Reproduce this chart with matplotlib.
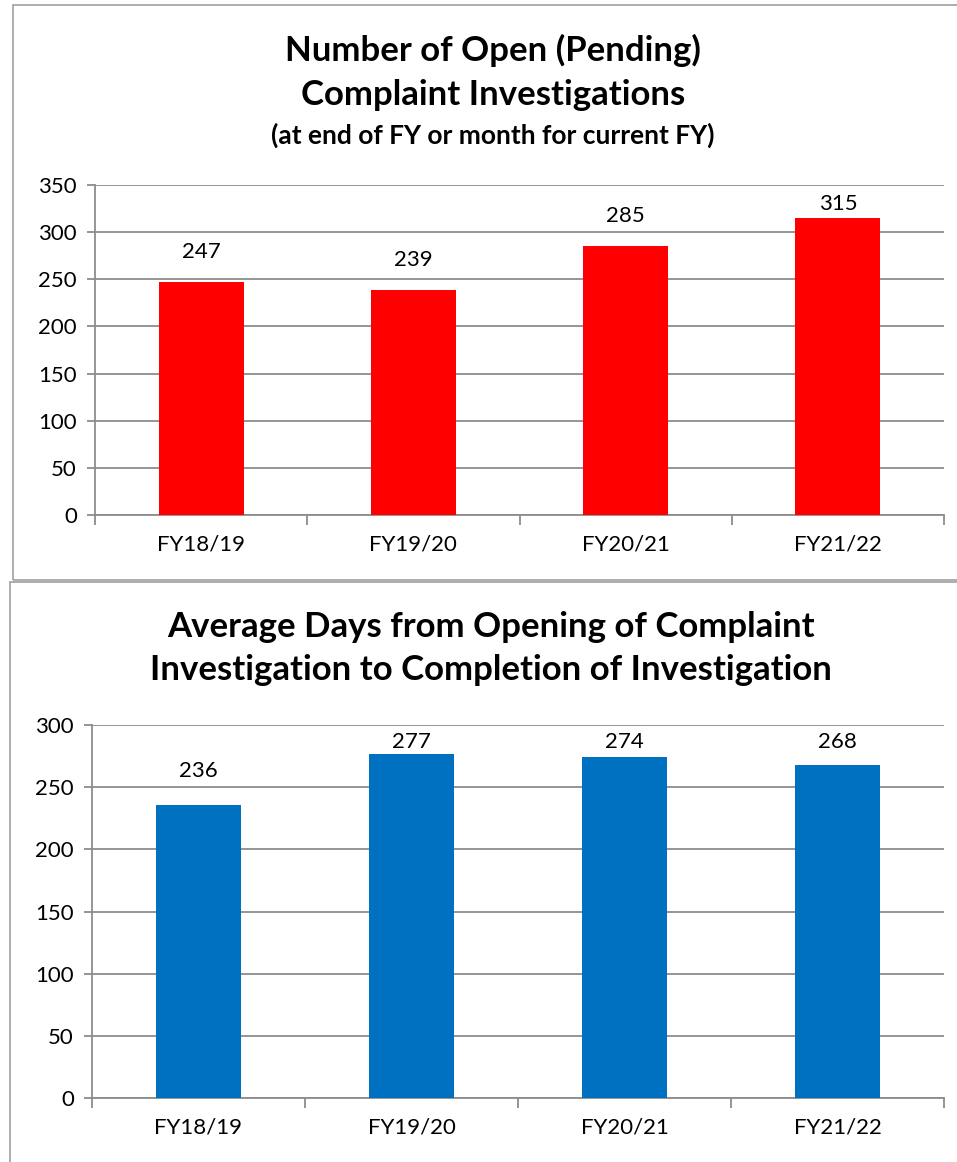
import numpy as np
import matplotlib.pyplot as plt
from matplotlib.patches import Rectangle

plt.rcParams['font.family'] = ['Lato', 'DejaVu Sans']

years = ['FY18/19', 'FY19/20', 'FY20/21', 'FY21/22']
open_cases = [247, 239, 285, 315]
avg_days = [236, 277, 274, 268]

W, H = 957, 1162
fig = plt.figure(figsize=(W / 100, H / 100), dpi=100)

# panel borders
fig.patches.append(Rectangle((13 / W, 1 - 580 / H), 1.2, (580 - 5) / H,
                             transform=fig.transFigure, fill=False,
                             edgecolor='#a0a0a0', lw=1.2))
fig.patches.append(Rectangle((10 / W, -0.1), 1.2, 0.1 + 1 - 582 / H,
                             transform=fig.transFigure, fill=False,
                             edgecolor='#a0a0a0', lw=1.2))


def bar_panel(rect, vals, color, ymax, step, off, top):
    ax = fig.add_axes(rect)
    x = np.arange(len(vals))
    ax.bar(x, vals, width=0.4, color=color, zorder=3)
    for xi, v in zip(x, vals):
        ax.text(xi, min(v + off, top), str(v), ha='center', va='center', fontsize=16)
    ax.set_xlim(-0.5, len(vals) - 0.5)
    ax.set_ylim(0, ymax)
    ax.set_yticks(np.arange(0, ymax + 1, step))
    ax.yaxis.grid(True, color='#8c8c8c', lw=1.3, zorder=0)
    ax.set_xticks(x)
    ax.set_xticklabels(years, fontsize=16)
    ax.set_xticks(np.arange(-0.5, len(vals)), minor=True)
    ax.tick_params(axis='x', which='major', length=0, pad=14)
    ax.tick_params(axis='x', which='minor', length=7, color='#8c8c8c', width=1.3)
    ax.tick_params(axis='y', labelsize=16, length=6, color='#8c8c8c', width=1.3, pad=7)
    for s in ['top', 'right']:
        ax.spines[s].set_visible(False)
    for s in ['left', 'bottom']:
        ax.spines[s].set_color('#8c8c8c')
        ax.spines[s].set_linewidth(1.3)
    return ax


bar_panel([95 / W, 1 - 515 / H, (944 - 95) / W, (515 - 185) / H],
          open_cases, '#ff0000', 350, 50, 31.8, 330)
bar_panel([92 / W, 1 - 1098 / H, (944 - 92) / W, (1098 - 725) / H],
          avg_days, '#0070c0', 300, 50, 27, 286)

fig.text(493 / W, 1 - 50 / H, 'Number of Open (Pending)', ha='center', va='center',
         fontsize=25, fontweight='bold')
fig.text(493 / W, 1 - 95 / H, 'Complaint Investigations', ha='center', va='center',
         fontsize=25, fontweight='bold')
fig.text(493 / W, 1 - 135 / H, '(at end of FY or month for current FY)', ha='center',
         va='center', fontsize=19, fontweight='bold')
fig.text(491 / W, 1 - 627 / H, 'Average Days from Opening of Complaint', ha='center',
         va='center', fontsize=25, fontweight='bold')
fig.text(491 / W, 1 - 670 / H, 'Investigation to Completion of Investigation',
         ha='center', va='center', fontsize=25, fontweight='bold')

fig.savefig('out.png', dpi=100)
